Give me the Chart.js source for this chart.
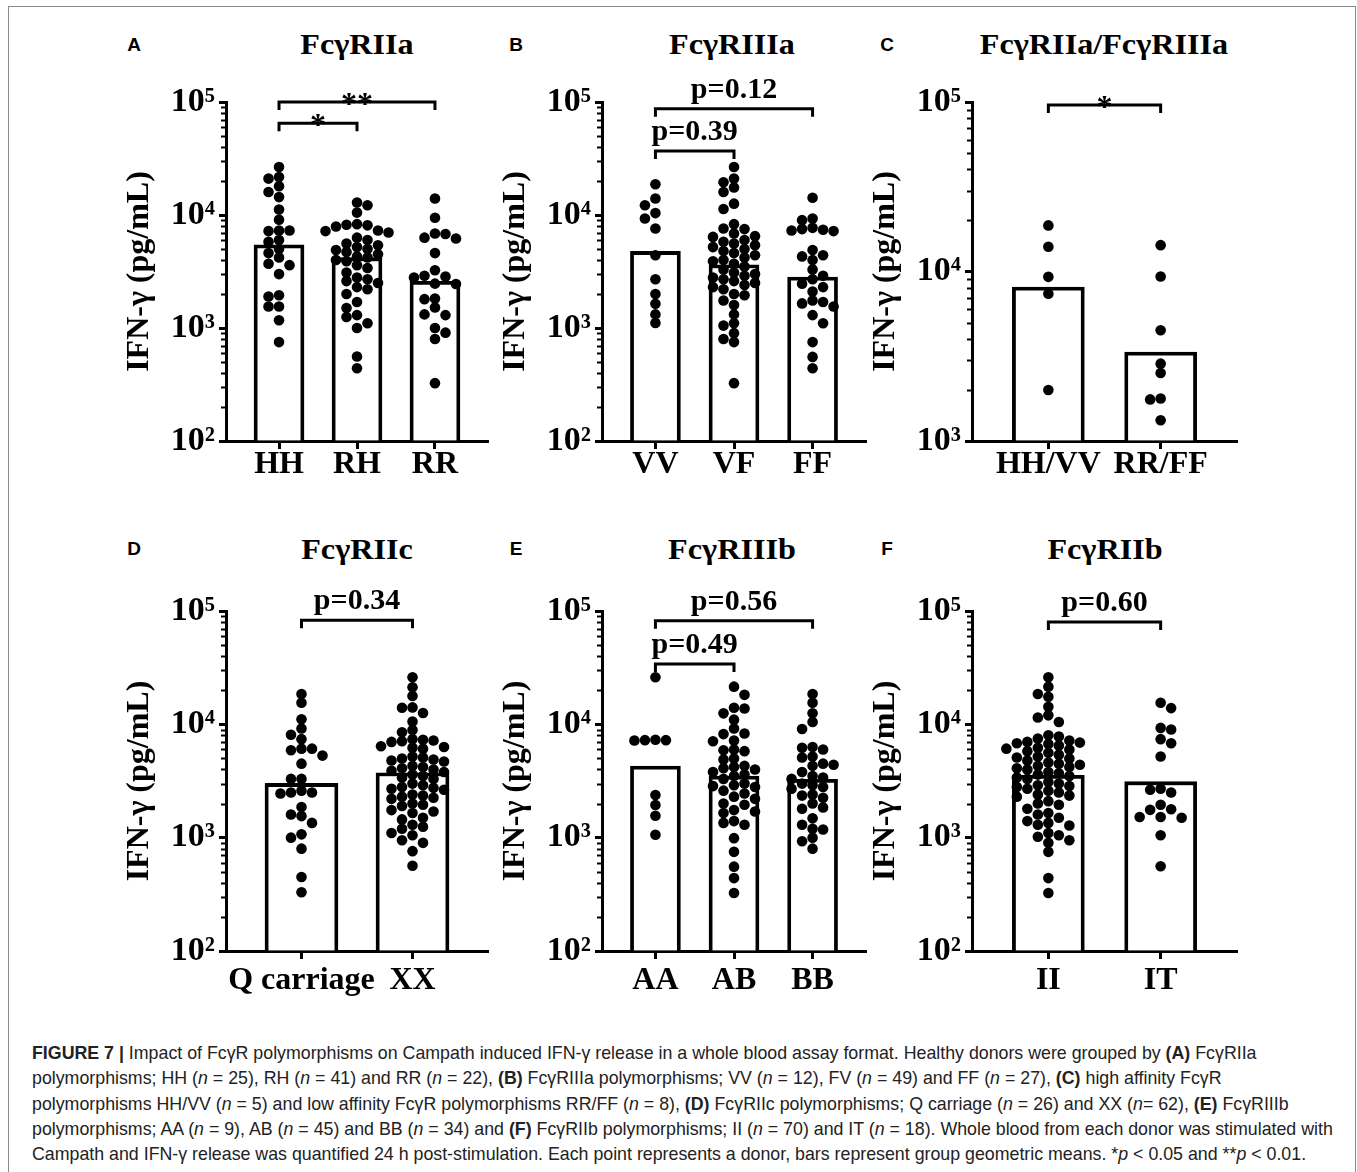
<!DOCTYPE html>
<html>
<head>
<meta charset="utf-8">
<script src="https://cdn.jsdelivr.net/npm/chart.js@4.4.1/dist/chart.umd.min.js"></script>
<style>
  body { margin: 0; background: #fff; width: 1357px; height: 1172px; position: relative; overflow: hidden; }
  .frame { position: absolute; left: 8px; top: 6px; width: 1348px; height: 1190px; border: 1.5px solid #8a8a8a; box-sizing: border-box; }
  canvas { position: absolute; }
  .t { position: absolute; white-space: nowrap; transform: translate(-50%, -50%); line-height: 1; color: #000; }
  .title { font: bold 29px 'Liberation Serif', 'Times New Roman', serif; transform: translate(-50%, -50%) scaleX(1.11); }
  .letter { font: bold 19px 'Liberation Sans', Arial, sans-serif; }
  .caption { position: absolute; left: 32px; top: 1041px; font: 17.8px 'Liberation Sans', Arial, sans-serif; line-height: 25.3px; color: #222; white-space: nowrap; }
</style>
</head>
<body>
<div class="frame"></div>

<div class="t letter" style="left:134px;top:45px">A</div>
<div class="t letter" style="left:516px;top:45px">B</div>
<div class="t letter" style="left:887px;top:45px">C</div>
<div class="t letter" style="left:134px;top:549px">D</div>
<div class="t letter" style="left:516px;top:549px">E</div>
<div class="t letter" style="left:887px;top:549px">F</div>

<div class="t title" style="left:357px;top:44px">FcγRIIa</div>
<div class="t title" style="left:732px;top:44px">FcγRIIIa</div>
<div class="t title" style="left:1104px;top:44px">FcγRIIa/FcγRIIIa</div>
<div class="t title" style="left:357px;top:549px">FcγRIIc</div>
<div class="t title" style="left:732px;top:549px">FcγRIIIb</div>
<div class="t title" style="left:1105px;top:549px">FcγRIIb</div>

<canvas id="chartA"></canvas>
<canvas id="chartB"></canvas>
<canvas id="chartC"></canvas>
<canvas id="chartD"></canvas>
<canvas id="chartE"></canvas>
<canvas id="chartF"></canvas>

<div class="caption">
  <div><b>FIGURE 7 |</b> Impact of FcγR polymorphisms on Campath induced IFN-γ release in a whole blood assay format. Healthy donors were grouped by <b>(A)</b> FcγRIIa</div>
  <div>polymorphisms; HH (<i>n</i> = 25), RH (<i>n</i> = 41) and RR (<i>n</i> = 22), <b>(B)</b> FcγRIIIa polymorphisms; VV (<i>n</i> = 12), FV (<i>n</i> = 49) and FF (<i>n</i> = 27), <b>(C)</b> high affinity FcγR</div>
  <div>polymorphisms HH/VV (<i>n</i> = 5) and low affinity FcγR polymorphisms RR/FF (<i>n</i> = 8), <b>(D)</b> FcγRIIc polymorphisms; Q carriage (<i>n</i> = 26) and XX (<i>n</i>= 62), <b>(E)</b> FcγRIIIb</div>
  <div>polymorphisms; AA (<i>n</i> = 9), AB (<i>n</i> = 45) and BB (<i>n</i> = 34) and <b>(F)</b> FcγRIIb polymorphisms; II (<i>n</i> = 70) and IT (<i>n</i> = 18). Whole blood from each donor was stimulated with</div>
  <div>Campath and IFN-γ release was quantified 24 h post-stimulation. Each point represents a donor, bars represent group geometric means. *<i>p</i> &lt; 0.05 and **<i>p</i> &lt; 0.01.</div>
</div>

<script>
// --- data (pg/mL) ---

// A: FcγRIIa
const catsA = ["HH", "RH", "RR"];
const valsHH = [26600, 21700, 21000, 18000, 16000, 14400, 11200, 9100, 7300, 7300, 7200, 6000, 5800,
  5000, 4600, 4200, 3700, 3600, 3000, 1950, 1900, 1550, 1550, 1170, 750];
const valsRH = [12900, 12200, 10500, 8300, 8200, 8100, 7900, 7300, 7200, 7000, 6300, 6000, 5600, 5400,
  5200, 5000, 4900, 4700, 4500, 4300, 4200, 4000, 3900, 3600, 3400, 3100, 2800, 2700, 2600, 2500,
  2300, 2200, 2000, 1700, 1500, 1300, 1250, 1100, 1000, 560, 440];
const valsRR = [14000, 9450, 6850, 6800, 6300, 6200, 4600, 3240, 2900, 2850, 2800, 2470, 2450, 1820,
  1800, 1520, 1320, 1300, 1000, 910, 800, 325];
const meansA = [5450, 4190, 2590];

// B: FcγRIIIa
const catsB = ["VV", "VF", "FF"];
const valsVV = [18700, 14000, 12200, 10400, 9300, 7600, 4400, 2700, 2000, 1640, 1320, 1110];
const valsVF = [26600, 21000, 19500, 17500, 16000, 12600, 11300, 8300, 7600, 7500, 6850, 6500, 6400,
  6000, 5800, 5600, 5400, 5200, 5000, 4800, 4600, 4400, 4200, 4000, 3900, 3700, 3500, 3300, 3100,
  3000, 2900, 2800, 2700, 2600, 2500, 2400, 2300, 2200, 2000, 1950, 1750, 1600, 1320, 1100, 1050,
  900, 800, 750, 325];
const valsFF = [14200, 9300, 9000, 7700, 7500, 7400, 7300, 7200, 4900, 4400, 4300, 4000, 3300, 2900,
  2700, 2460, 2300, 2100, 1750, 1700, 1650, 1550, 1300, 1100, 750, 555, 440];
const meansB = [4760, 3630, 2820];

// C: FcγRIIa/FcγRIIIa
const catsC = ["HH/VV", "RR/FF"];
const valsHHVV = [18700, 14000, 9300, 7400, 2000];
const valsRRFF = [14300, 9350, 4500, 2860, 2520, 1780, 1760, 1325];
const meansC = [8090, 3350];

// D: FcγRIIc
const catsD = ["Q carriage", "XX"];
const valsQ = [18500, 15500, 11100, 9200, 8100, 7400, 6100, 6100, 5900, 5300, 4500, 3300, 3300, 2600,
  2500, 2500, 2450, 1860, 1600, 1550, 1350, 1070, 1000, 800, 450, 330];
const valsXX = [26000, 21200, 17800, 14100, 14000, 12600, 10600, 8900, 8500, 7400, 7300, 7200, 7100,
  7000, 6400, 6300, 6200, 6100, 5200, 5100, 5000, 4900, 4800, 4700, 4300, 4200, 4100, 4000, 3900,
  3800, 3600, 3500, 3400, 3300, 3000, 2900, 2800, 2750, 2700, 2650, 2400, 2350, 2300, 2250, 2200,
  2000, 1950, 1900, 1750, 1700, 1650, 1500, 1450, 1300, 1250, 1200, 1100, 1050, 950, 900, 760, 565];
const meansD = [3010, 3740];

// E: FcγRIIIb
const catsE = ["AA", "AB", "BB"];
const valsAA = [26000, 7300, 7250, 7250, 7200, 2380, 1940, 1560, 1060];
const valsAB = [21500, 18200, 14000, 13800, 12500, 11000, 9200, 8300, 8200, 7200, 7100, 6000, 5900,
  5800, 5000, 4900, 4300, 4200, 4100, 4000, 3800, 3600, 3500, 3300, 3000, 2900, 2850, 2800, 2600,
  2450, 2300, 2200, 2000, 1950, 1750, 1700, 1650, 1400, 1350, 1300, 990, 750, 555, 440, 325];
const valsBB = [18500, 15500, 12500, 10500, 9100, 6300, 6200, 6000, 5200, 5100, 4500, 4400, 4300, 3800,
  3500, 3400, 3300, 3000, 2900, 2800, 2700, 2400, 2350, 2250, 2000, 1850, 1800, 1480, 1300, 1200,
  1180, 1000, 930, 800];
const meansE = [4290, 3500, 3270];

// F: FcγRIIb
const catsF = ["II", "IT"];
const valsII = [26000, 21500, 18500, 17500, 14300, 12000, 11500, 10500, 8000, 7800, 7500, 7200, 7000,
  6900, 6800, 6700, 6500, 6200, 6100, 6000, 5800, 5600, 5400, 5200, 5100, 5000, 4800, 4600, 4500,
  4400, 4300, 4200, 4100, 4000, 3800, 3700, 3600, 3500, 3400, 3300, 3100, 3000, 2900, 2850, 2800,
  2700, 2600, 2500, 2400, 2350, 2300, 2100, 2000, 1950, 1800, 1650, 1600, 1500, 1400, 1350, 1300,
  1280, 1100, 1050, 1020, 950, 900, 750, 440, 325];
const valsIT = [15500, 13900, 9300, 9000, 7400, 6800, 5200, 2700, 2650, 2500, 1950, 1780, 1760, 1520,
  1520, 1500, 1050, 560];
const meansF = [3550, 3120];

// significance brackets: group indices, height (pg/mL), label
const bracketsA = [{ from: 0, to: 1, y: 65000, text: "*" }, { from: 0, to: 2, y: 100000, text: "**" }];
const bracketsB = [{ from: 0, to: 1, y: 36800, text: "p=0.39" }, { from: 0, to: 2, y: 87000, text: "p=0.12" }];
const bracketsC = [{ from: 0, to: 1, y: 96000, text: "*" }];
const bracketsD = [{ from: 0, to: 1, y: 83000, text: "p=0.34" }];
const bracketsE = [{ from: 0, to: 1, y: 34000, text: "p=0.49" }, { from: 0, to: 2, y: 82000, text: "p=0.56" }];
const bracketsF = [{ from: 0, to: 1, y: 80000, text: "p=0.60" }];

const SERIF = "'Liberation Serif', 'Times New Roman', serif";
const SUP = { "2": "\u00b2", "3": "\u00b3", "4": "\u2074", "5": "\u2075" };

function isDecade(v) {
  const l = Math.log10(v);
  return Math.abs(l - Math.round(l)) < 1e-9;
}

// 1..9 x 10^n tick values between min and max
function logTicks(min, max) {
  const out = [];
  for (let e = Math.round(Math.log10(min)); e < Math.round(Math.log10(max)); e++) {
    for (let m = 1; m < 10; m++) out.push(m * Math.pow(10, e));
  }
  out.push(max);
  return out;
}

// row-style scatter spreading (like Prism): dots in the same height band sit side by side
function swarm(values, pxPerDecade, dx, dy) {
  const order = values.map((v, i) => i).sort((a, b) => values[b] - values[a]);
  const placed = [];
  const out = new Array(values.length);
  order.forEach((idx, n) => {
    const py = Math.log10(values[idx]) * pxPerDecade;
    let best = 0;
    for (let d = 0; d < 300; d += 0.5) {
      const cands = d === 0 ? [0] : (n % 2 ? [d, -d] : [-d, d]);
      const hit = cands.find((c) => placed.every((p) => Math.abs(p.y - py) >= dy || Math.abs(p.x - c) >= dx));
      if (hit !== undefined) { best = hit; break; }
    }
    placed.push({ x: best, y: py });
    out[idx] = best;
  });
  return out;
}

const bracketPlugin = {
  id: "brackets",
  afterDatasetsDraw(chart, args, opts) {
    const { ctx, scales: { x, y } } = chart;
    (opts.items || []).forEach((b) => {
      const x1 = x.getPixelForValue(b.from);
      const x2 = x.getPixelForValue(b.to);
      const yy = y.getPixelForValue(b.y);
      const star = /^\*+$/.test(b.text);
      ctx.save();
      ctx.strokeStyle = "#000";
      ctx.lineWidth = 3;
      ctx.beginPath();
      ctx.moveTo(x1, yy + 8);
      ctx.lineTo(x1, yy);
      ctx.lineTo(x2, yy);
      ctx.lineTo(x2, yy + 8);
      ctx.stroke();
      ctx.fillStyle = "#000";
      ctx.textAlign = "center";
      ctx.textBaseline = "alphabetic";
      ctx.font = "bold " + (star ? 32 : 30) + "px " + SERIF;
      ctx.fillText(b.text, (x1 + x2) / 2, star ? yy + 12 : yy - 11);
      ctx.restore();
    });
  },
};

const minorTickPlugin = {
  id: "minorTicks",
  afterDraw(chart) {
    const s = chart.scales.y;
    const ctx = chart.ctx;
    ctx.save();
    ctx.strokeStyle = "#000";
    ctx.lineWidth = 2;
    s.ticks.forEach((t) => {
      if (t.major) return;
      const py = Math.round(s.getPixelForValue(t.value)) + 0.5;
      ctx.beginPath();
      ctx.moveTo(s.right - 5, py);
      ctx.lineTo(s.right, py);
      ctx.stroke();
    });
    ctx.restore();
  },
};

function makePanel(p) {
  const Y_AXIS_W = 126, PAD_TOP = 40, PAD_RIGHT = 6, X_AXIS_H = 62;
  const plotW = p.box.r - p.box.l;
  const plotH = p.box.b - p.box.t;
  const xMin = -0.68, xMax = p.cats.length - 1 + 0.68;
  const yTicks = logTicks(p.yMin, p.yMax);

  const canvas = document.getElementById(p.id);
  const w = Y_AXIS_W + plotW + PAD_RIGHT;
  const h = PAD_TOP + plotH + X_AXIS_H;
  canvas.width = w;
  canvas.height = h;
  canvas.style.width = w + "px";
  canvas.style.height = h + "px";
  canvas.style.left = (p.box.l - Y_AXIS_W) + "px";
  canvas.style.top = (p.box.t - PAD_TOP) + "px";

  const pxPerDecade = plotH / Math.log10(p.yMax / p.yMin);
  const pxPerUnit = plotW / (xMax - xMin);
  const points = [];
  p.groups.forEach((vals, gi) => {
    const offs = swarm(vals, pxPerDecade, 10.5, 8.5);
    vals.forEach((v, i) => points.push({ x: gi + offs[i] / pxPerUnit, y: v }));
  });

  return new Chart(canvas, {
    type: "scatter",
    data: {
      datasets: [
        {
          type: "scatter",
          data: points,
          pointRadius: 5.3,
          pointHoverRadius: 5.3,
          backgroundColor: "#000",
          borderWidth: 0,
          order: 0,
        },
        {
          type: "bar",
          data: p.means.map((m, i) => ({ x: i, y: m })),
          backgroundColor: "#fff",
          borderColor: "#000",
          borderWidth: 3.8,
          borderSkipped: "start",
          barThickness: p.barW,
          base: p.yMin,
          order: 1,
        },
      ],
    },
    options: {
      responsive: false,
      animation: false,
      events: [],
      layout: { padding: { top: PAD_TOP, right: PAD_RIGHT, left: 0, bottom: 0 } },
      plugins: {
        legend: { display: false },
        tooltip: { enabled: false },
        brackets: { items: p.brackets },
      },
      scales: {
        x: {
          type: "linear",
          min: xMin,
          max: xMax,
          offset: false,
          bounds: "data",
          afterBuildTicks: (s) => { s.ticks = p.cats.map((c, i) => ({ value: i })); },
          afterFit: (s) => { s.height = X_AXIS_H; },
          grid: { display: true, offset: false, drawOnChartArea: false, drawTicks: true, tickLength: 8, tickWidth: 3, tickColor: "#000" },
          border: { display: true, color: "#000", width: 3 },
          ticks: {
            autoSkip: false,
            maxRotation: 0,
            padding: p.labelPad,
            color: "#000",
            font: { family: SERIF, weight: "bold", size: 32, lineHeight: 1 },
            callback: (v) => p.cats[Math.round(v)],
          },
        },
        y: {
          type: "logarithmic",
          min: p.yMin,
          max: p.yMax,
          bounds: "data",
          afterBuildTicks: (s) => { s.ticks = yTicks.map((v) => ({ value: v, major: isDecade(v) })); },
          afterFit: (s) => { s.width = Y_AXIS_W; },
          grid: {
            display: true,
            drawOnChartArea: false,
            drawTicks: true,
            tickLength: 7,
            tickWidth: 3,
            tickColor: (c) => (c.tick && c.tick.major ? "#000" : "rgba(0,0,0,0)"),
          },
          border: { display: true, color: "#000", width: 3 },
          ticks: {
            autoSkip: false,
            padding: 4,
            color: "#000",
            font: { family: SERIF, weight: "bold", size: 34, lineHeight: 1.2 },
            callback: (v) => (isDecade(v) ? "10" + SUP[String(Math.round(Math.log10(v)))] : ""),
          },
          title: {
            display: true,
            text: "IFN-γ (pg/mL)",
            color: "#000",
            font: { family: SERIF, weight: "bold", size: 32, lineHeight: 1.2 },
            padding: { top: 21, bottom: 0 },
          },
        },
      },
    },
    plugins: [bracketPlugin, minorTickPlugin],
  });
}

const panels = [
  { id: "chartA", box: { l: 226, t: 102, r: 488, b: 441 }, cats: catsA, groups: [valsHH, valsRH, valsRR], means: meansA, yMin: 100, yMax: 100000, barW: 50, brackets: bracketsA, labelPad: 0 },
  { id: "chartB", box: { l: 602, t: 102, r: 866, b: 441 }, cats: catsB, groups: [valsVV, valsVF, valsFF], means: meansB, yMin: 100, yMax: 100000, barW: 50, brackets: bracketsB, labelPad: 0 },
  { id: "chartC", box: { l: 972, t: 102, r: 1237, b: 441 }, cats: catsC, groups: [valsHHVV, valsRRFF], means: meansC, yMin: 1000, yMax: 100000, barW: 72, brackets: bracketsC, labelPad: 0 },
  { id: "chartD", box: { l: 226, t: 611, r: 488, b: 951 }, cats: catsD, groups: [valsQ, valsXX], means: meansD, yMin: 100, yMax: 100000, barW: 73, brackets: bracketsD, labelPad: 6 },
  { id: "chartE", box: { l: 602, t: 611, r: 866, b: 951 }, cats: catsE, groups: [valsAA, valsAB, valsBB], means: meansE, yMin: 100, yMax: 100000, barW: 50, brackets: bracketsE, labelPad: 6 },
  { id: "chartF", box: { l: 972, t: 611, r: 1237, b: 951 }, cats: catsF, groups: [valsII, valsIT], means: meansF, yMin: 100, yMax: 100000, barW: 72, brackets: bracketsF, labelPad: 6 },
];

panels.forEach(makePanel);
</script>
</body>
</html>
